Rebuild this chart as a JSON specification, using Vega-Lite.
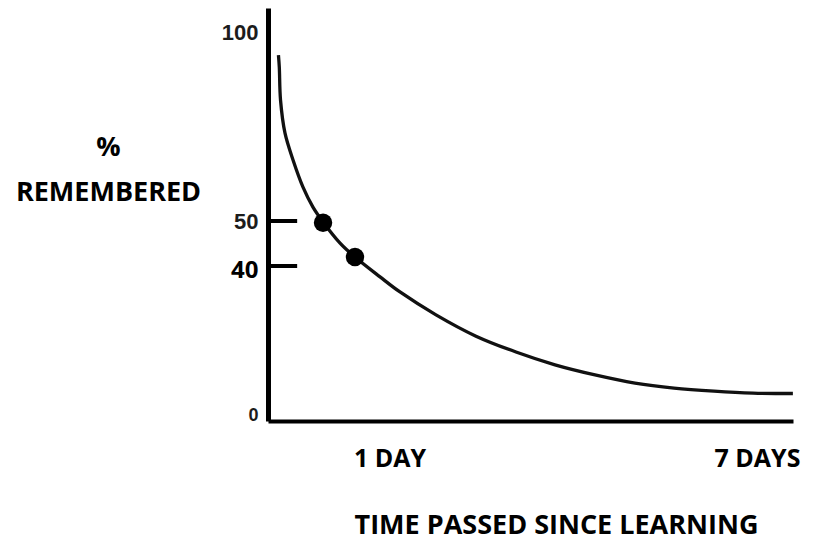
{
  "$schema": "https://vega.github.io/schema/vega-lite/v6.json",
  "width": 525,
  "height": 413,
  "autosize": {"type": "none"},
  "padding": {"left": 268, "top": 8, "right": 24, "bottom": 119},
  "background": "white",
  "config": {"view": {"stroke": null}, "axis": {"grid": false}},
  "datasets": {
    "curve": [
      {"days": 0.086, "pct": 94.0},
      {"days": 0.093, "pct": 90.8},
      {"days": 0.103, "pct": 82.1},
      {"days": 0.140, "pct": 73.3},
      {"days": 0.206, "pct": 66.2},
      {"days": 0.288, "pct": 59.0},
      {"days": 0.370, "pct": 53.7},
      {"days": 0.453, "pct": 49.8},
      {"days": 0.593, "pct": 45.1},
      {"days": 0.716, "pct": 42.0},
      {"days": 0.922, "pct": 37.2},
      {"days": 1.171, "pct": 33.3},
      {"days": 1.759, "pct": 27.4},
      {"days": 2.412, "pct": 21.9},
      {"days": 3.065, "pct": 17.8},
      {"days": 3.702, "pct": 14.5},
      {"days": 4.355, "pct": 11.9},
      {"days": 5.008, "pct": 9.8},
      {"days": 5.645, "pct": 8.5},
      {"days": 6.298, "pct": 7.7},
      {"days": 6.935, "pct": 7.2},
      {"days": 7.588, "pct": 7.1}
    ],
    "dots": [
      {"days": 0.453, "pct": 49.6},
      {"days": 0.716, "pct": 42.0}
    ],
    "ticks": [
      {"pct": 40, "start": 0, "end": 0.24},
      {"pct": 50, "start": 0, "end": 0.24}
    ]
  },
  "encoding": {
    "y": {
      "field": "pct", "type": "quantitative",
      "scale": {"domain": [0, 40, 50, 106.5], "range": [413, 258, 213, 0], "nice": false, "zero": false},
      "axis": {
        "values": [0, 40, 50, 100],
        "domainWidth": 5, "domainColor": "#000",
        "ticks": false, "tickSize": 0,
        "labelPadding": 10,
        "labelFont": {"condition": {"test": "datum.value === 40", "value": "Open Sans"}, "value": "Liberation Sans"},
        "labelFontWeight": "bold",
        "labelFontSize": {"condition": [{"test": "datum.value === 40", "value": 24}, {"test": "datum.value === 0", "value": 18}], "value": 22},
        "labelColor": {"condition": {"test": "datum.value === 40", "value": "#000"}, "value": "#1c1c1c"},
        "labelOffset": {"condition": [{"test": "datum.value === 0", "value": -6}, {"test": "datum.value === 40", "value": 4}], "value": 0},
        "labelFlush": false, "labelOverlap": false,
        "title": ["%", "REMEMBERED"],
        "titleAngle": 0, "titleX": -160, "titleY": 147, "titleAlign": "center", "titleBaseline": "alphabetic",
        "titleFont": "Open Sans", "titleFontSize": 27, "titleFontWeight": "bold", "titleLineHeight": 45, "titleColor": "#000"
      }
    },
    "x": {
      "field": "days", "type": "quantitative",
      "scale": {"domain": [0, 1, 7, 7.59], "range": [0, 121.5, 489, 525], "nice": false, "zero": false},
      "axis": {
        "values": [1, 7],
        "labelExpr": "datum.value === 1 ? '1 DAY' : '7 DAYS'",
        "domainWidth": 4, "domainColor": "#000",
        "ticks": false, "tickSize": 0,
        "labelPadding": 45, "labelBaseline": "alphabetic",
        "labelFont": "Open Sans", "labelFontSize": 25, "labelFontWeight": "bold", "labelColor": "#000",
        "labelFlush": false, "labelOverlap": false,
        "title": "TIME PASSED SINCE LEARNING",
        "titleX": 288, "titleY": 112, "titleAlign": "center", "titleBaseline": "alphabetic",
        "titleFont": "Open Sans", "titleFontSize": 27, "titleFontWeight": "bold", "titleColor": "#000"
      }
    }
  },
  "layer": [
    {
      "data": {"name": "curve"},
      "mark": {"type": "line", "interpolate": "catmull-rom", "strokeWidth": 3.3, "color": "#111"}
    },
    {
      "data": {"name": "dots"},
      "mark": {"type": "circle", "size": 340, "opacity": 1, "color": "#000"}
    },
    {
      "data": {"name": "ticks"},
      "mark": {"type": "rule", "strokeWidth": 4, "color": "#000"},
      "encoding": {
        "x": {
          "field": "start", "type": "quantitative",
          "scale": {"domain": [0, 1, 7, 7.59], "range": [0, 121.5, 489, 525], "nice": false, "zero": false},
          "axis": {
            "values": [1, 7],
            "labelExpr": "datum.value === 1 ? '1 DAY' : '7 DAYS'",
            "domainWidth": 4, "domainColor": "#000",
            "ticks": false, "tickSize": 0,
            "labelPadding": 45, "labelBaseline": "alphabetic",
            "labelFont": "Open Sans", "labelFontSize": 25, "labelFontWeight": "bold", "labelColor": "#000",
            "labelFlush": false, "labelOverlap": false,
            "title": "TIME PASSED SINCE LEARNING",
            "titleX": 288, "titleY": 112, "titleAlign": "center", "titleBaseline": "alphabetic",
            "titleFont": "Open Sans", "titleFontSize": 27, "titleFontWeight": "bold", "titleColor": "#000"
          }
        },
        "x2": {"field": "end"}
      }
    }
  ]
}
